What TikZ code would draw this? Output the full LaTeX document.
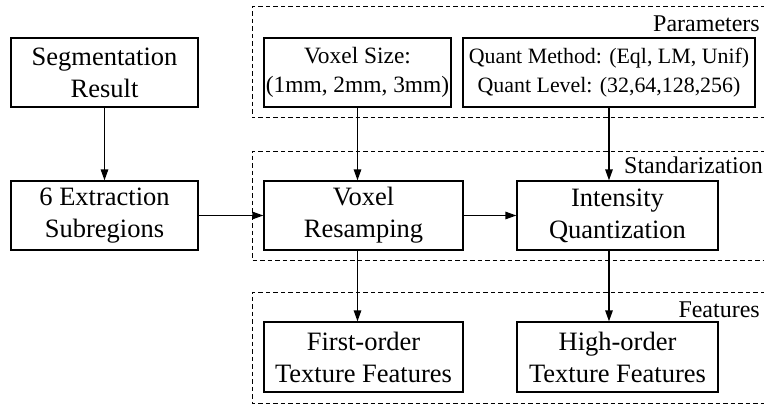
\documentclass[tikz,border=0pt]{standalone}
\usepackage{fontspec}
\setmainfont{Liberation Serif}
\usetikzlibrary{arrows.meta}
\tikzset{
  mainbox/.style={draw, line width=1.3pt, align=center, inner sep=0pt,
    font=\fontsize{26.5pt}{32pt}\selectfont},
  smallbox/.style={draw, line width=1.3pt, align=center, inner sep=0pt,
    font=\fontsize{23.4pt}{28.5pt}\selectfont},
  quantbox/.style={draw, line width=1.3pt, align=center, inner sep=0pt,
    font=\fontsize{21.9pt}{28.5pt}\selectfont},
  group/.style={draw, dashed, line width=1pt, dash pattern=on 4.5pt off 3pt},
  grouplabel/.style={anchor=base east, inner sep=0pt, font=\fontsize{24pt}{28pt}\selectfont},
  flow/.style={line width=1.3pt, -{Triangle[length=11pt,width=7.5pt]}}
}
\begin{document}
\begin{tikzpicture}[x=1pt,y=-1pt]
\clip (0,0) rectangle (764,404);
\fill[white] (0,0) rectangle (764,404);
% dashed groups
\draw[group] (780,7) -- (252,7) -- (252,118) -- (780,118);
\draw[group] (780,151) -- (252,151) -- (252,260) -- (780,260);
\draw[group] (780,292) -- (252,292) -- (252,403) -- (780,403);
\node[grouplabel] (lp) at (760,32) {Parameters};
\node[grouplabel] (ls) at (763,173) {Standarization};
\node[grouplabel] (lf) at (760,317) {Features};
% boxes
\node[mainbox, minimum width=187pt, minimum height=69pt] (seg) at (104.5,72.5) {Segmentation\\Result};
\node[mainbox, minimum width=187pt, minimum height=69pt] (ext) at (104.5,215.5) {6 Extraction\\Subregions};
\node[smallbox, minimum width=187pt, minimum height=69pt] (vs) at (357.5,72.5) {Voxel Size:\\(1mm, 2mm, 3mm)};
\node[quantbox, minimum width=292pt, minimum height=69pt] (qm) at (609,72.5) {Quant Method: (Eql, LM, Unif)\\Quant Level: (32,64,128,256)};
\node[mainbox, minimum width=199pt, minimum height=69pt] (vr) at (363.5,215.5) {Voxel\\Resamping};
\node[mainbox, minimum width=201pt, minimum height=69pt] (iq) at (617.5,215.5) {Intensity\\Quantization};
\node[mainbox, minimum width=199pt, minimum height=70pt] (fo) at (363.5,357) {First-order\\Texture Features};
\node[mainbox, minimum width=201pt, minimum height=70pt] (ho) at (617.5,357) {High-order\\Texture Features};
% connectors
\draw[flow] (seg) -- (ext);
\draw[flow] (ext) -- (vr);
\draw[flow] (vr) -- (iq);
\draw[flow] (vs.south) -- (vs.south |- vr.north);
\draw[flow] (vs.south |- vr.south) -- (vs.south |- fo.north);
\draw[flow] (qm.south) -- (qm.south |- iq.north);
\draw[flow] (qm.south |- iq.south) -- (qm.south |- ho.north);
\end{tikzpicture}
\end{document}
